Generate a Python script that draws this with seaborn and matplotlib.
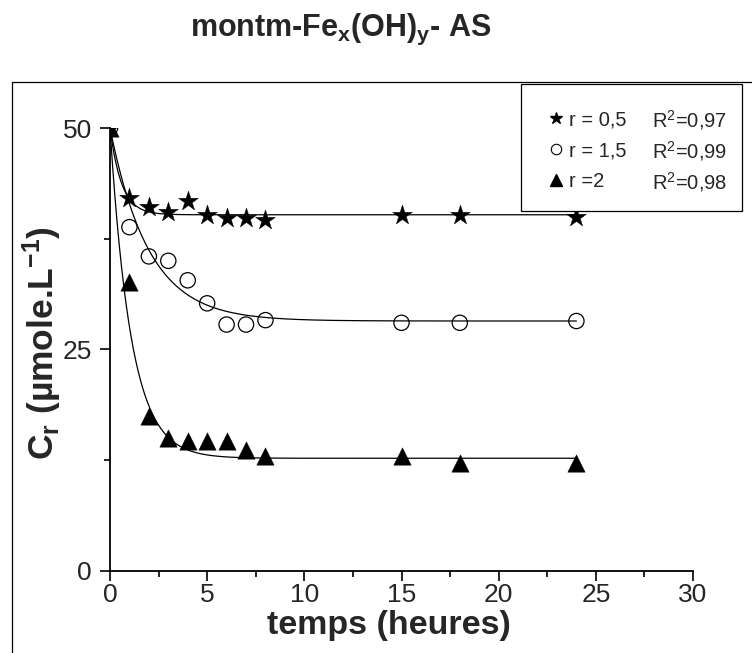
import numpy as np
import pandas as pd
import matplotlib
matplotlib.use("Agg")
import matplotlib.pyplot as plt
from matplotlib.patches import Rectangle
from matplotlib.lines import Line2D
import seaborn as sns

# ---- data ----
t = [0, 1, 2, 3, 4, 5, 6, 7, 8, 15, 18, 24]
c_r05 = [50, 42.1, 41.1, 40.5, 41.7, 40.2, 39.8, 39.8, 39.6, 40.2, 40.2, 39.9]
c_r15 = [50, 38.8, 35.5, 35.0, 32.8, 30.2, 27.8, 27.8, 28.3, 28.0, 28.0, 28.2]
c_r2 = [50, 32.6, 17.5, 15.0, 14.7, 14.7, 14.7, 13.6, 12.9, 12.9, 12.2, 12.2]

series_labels = ["r = 0,5", "r = 1,5", "r =2"]
r2_labels = ["R$^2$=0,97", "R$^2$=0,99", "R$^2$=0,98"]

# fitted first-order decay parameters
c0 = 50.0
plateaus = [40.2, 28.2, 12.7]
rates = [1.7, 0.5, 0.92]

x_ticks = [0, 5, 10, 15, 20, 25, 30]
y_ticks = [0, 25, 50]

sns.set_style("ticks")
plt.rcParams['font.family'] = ['Liberation Sans', 'DejaVu Sans']
plt.rcParams['mathtext.fontset'] = 'custom'
plt.rcParams['mathtext.rm'] = 'Liberation Sans'
plt.rcParams['mathtext.it'] = 'Liberation Sans'
plt.rcParams['mathtext.bf'] = 'Liberation Sans:bold'

W, H = 752, 653
fig = plt.figure(figsize=(W / 100, H / 100), dpi=100)
ax = fig.add_axes([110 / W, 1 - 570.7 / H, (693 - 110) / W, (570.7 - 128) / H])

# outer frame
fig.patches.append(Rectangle((12 / W, -0.1), 1.2, 0.1 + (H - 82) / H,
                             transform=fig.transFigure, fill=False,
                             edgecolor='black', lw=0.9, zorder=0))

tt = np.linspace(0, 24, 400)
markers = ['*', 'o', '^']
sizes = [15, 11, 12.5]
values = [c_r05, c_r15, c_r2]
for vals, lab, m, ms, pl, k in zip(values, series_labels, markers, sizes, plateaus, rates):
    fit = pl + (c0 - pl) * np.exp(-k * tt)
    sns.lineplot(x=tt, y=fit, ax=ax, color='black', lw=0.9, legend=False)
    df = pd.DataFrame({"t": t, "c": vals})
    if m == 'o':
        sns.scatterplot(data=df, x="t", y="c", ax=ax, marker='o', s=ms ** 2,
                        facecolor='none', edgecolor='black', linewidth=0.9,
                        legend=False, zorder=3)
    else:
        sns.scatterplot(data=df, x="t", y="c", ax=ax, marker=m, s=ms ** 2,
                        color='black', edgecolor='black', linewidth=0.3,
                        legend=False, zorder=3)

ax.set_xlim(0, 30)
ax.set_ylim(0, 50)
ax.set_xticks(x_ticks)
ax.set_yticks(y_ticks)
ax.set_xticks(np.arange(2.5, 30, 5), minor=True)
ax.set_yticks([12.5, 37.5], minor=True)
ax.tick_params(axis='both', which='major', labelsize=19, length=7, width=1.2,
               direction='out', color='black')
ax.tick_params(axis='x', which='major', pad=2)
ax.tick_params(axis='y', which='major', pad=6)
ax.tick_params(axis='both', which='minor', length=4.5, width=1.2,
               direction='out', color='black')
for s in ['top', 'right']:
    ax.spines[s].set_visible(False)
for s in ['left', 'bottom']:
    ax.spines[s].set_linewidth(1.3)
    ax.spines[s].set_color('black')

ax.set_xlabel("temps (heures)", fontsize=24.5, fontweight='bold')
ax.set_ylabel("C$_\\mathbf{r}$ (µmole.L$^\\mathbf{-1}$)", fontsize=25.5, fontweight='bold')
ax.xaxis.set_label_coords((389 - 110) / (693 - 110), -(610 - 570.7) / (570.7 - 128))
ax.yaxis.set_label_coords(-(110 - 64) / (693 - 110), (570.7 - 343) / (570.7 - 128))

fig.text(341 / W, 1 - 29 / H, "montm-Fe$_\\mathbf{x}$(OH)$_\\mathbf{y}$- AS",
         fontsize=22, fontweight='bold', ha='center', va='center')

# legend box
fig.patches.append(Rectangle((521 / W, 1 - 211 / H), (742 - 521) / W, (211 - 84) / H,
                             transform=fig.transFigure, facecolor='white',
                             edgecolor='black', lw=0.9, zorder=5))
handles = [
    Line2D([], [], ls='none', marker='*', ms=9, color='black'),
    Line2D([], [], ls='none', marker='o', ms=7.5, mfc='none', mec='black', mew=0.8),
    Line2D([], [], ls='none', marker='^', ms=8.5, color='black'),
]
leg = fig.legend(handles, series_labels, loc='upper left',
                 bbox_to_anchor=(549 / W, 1 - 110 / H), frameon=False,
                 fontsize=14.5, handlelength=0.7, handletextpad=0.3,
                 labelspacing=0.6, borderpad=0, borderaxespad=0)
leg.set_zorder(6)
for i, lab in enumerate(r2_labels):
    fig.text(652 / W, 1 - (120 + 31 * i) / H, lab, fontsize=14.5,
             ha='left', va='center', zorder=6)

fig.savefig("out.png", dpi=100)
